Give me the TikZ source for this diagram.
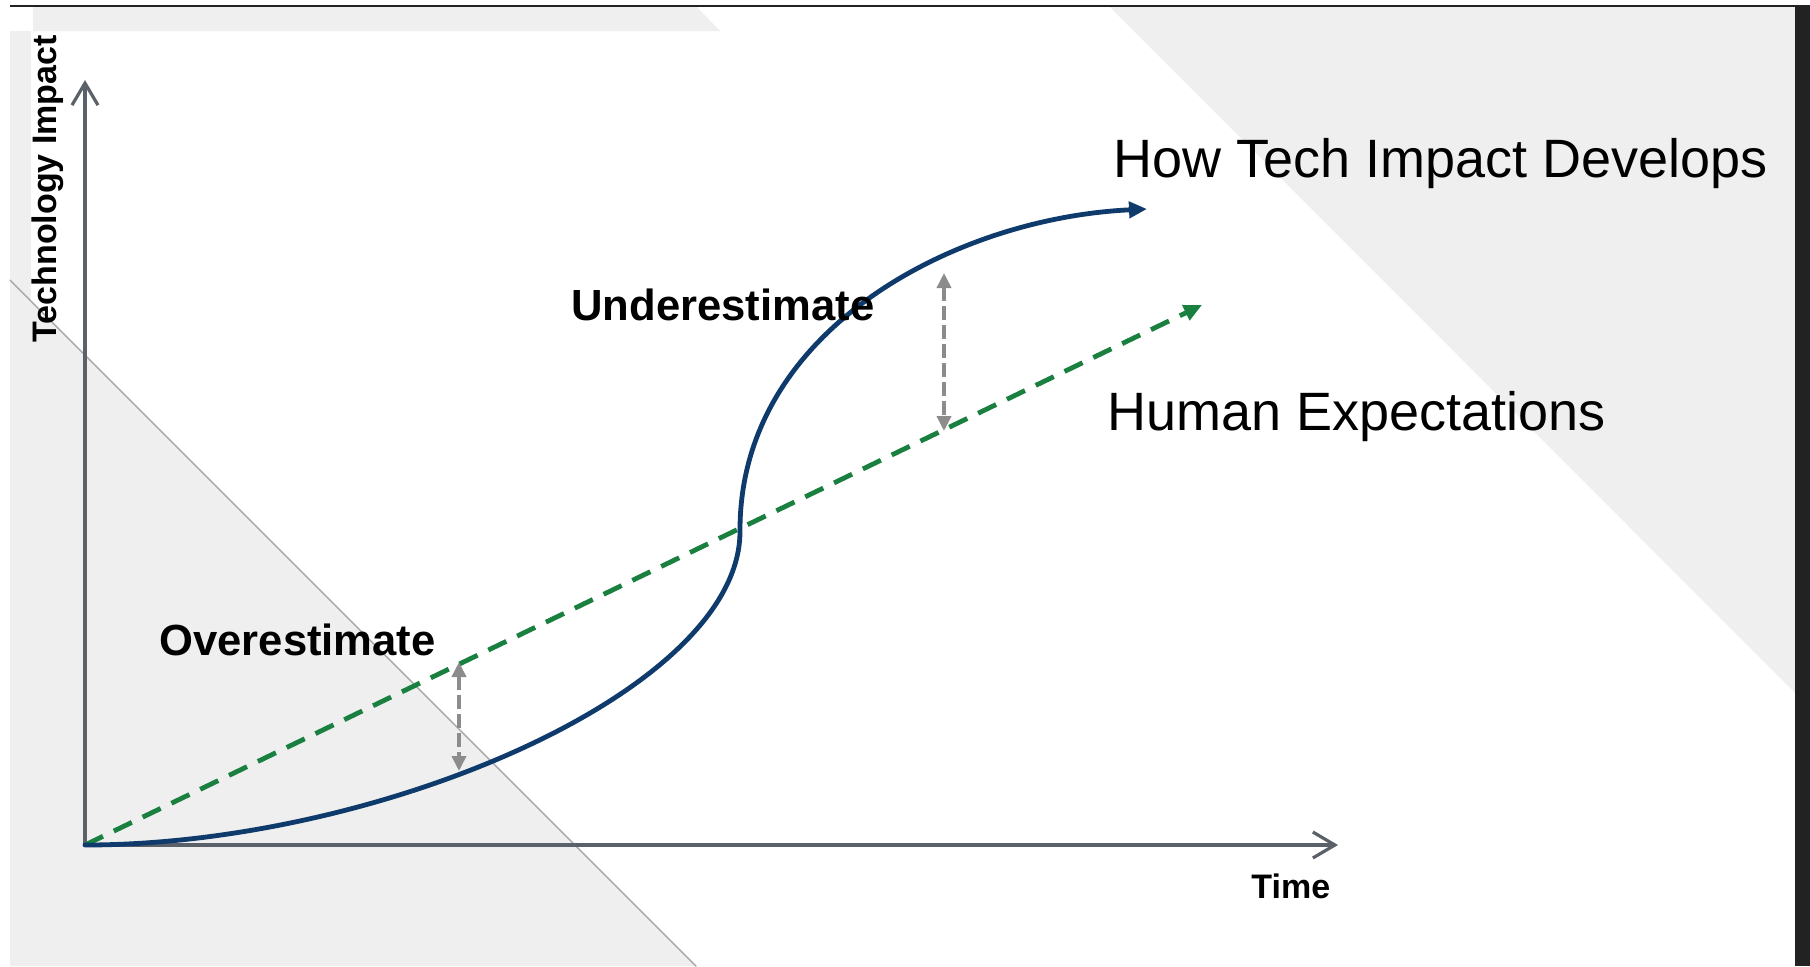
\documentclass[tikz,border=0pt]{standalone}
\usepackage{fontspec}
\setmainfont{Liberation Sans}
\usetikzlibrary{arrows.meta}
\definecolor{panelgray}{HTML}{EFEFEF}
\definecolor{framedark}{HTML}{222222}
\definecolor{axisgray}{HTML}{5B6168}
\definecolor{technavy}{HTML}{0E3A6C}
\definecolor{expgreen}{HTML}{1A8040}
\definecolor{gapgray}{HTML}{8C8C8C}
\definecolor{edgegray}{HTML}{A8A8A8}
\begin{document}
\begin{tikzpicture}[x=0.5pt, y=-0.5pt, line join=round, line cap=round,
  >={Triangle[length=9pt,width=8pt]},
  axisline/.style={axisgray, line width=1.6pt, -{Straight Barb[length=11pt,width=13pt]}},
  techcurve/.style={technavy, line width=2.4pt, ->},
  expline/.style={expgreen, line width=2.4pt, line cap=butt, dash pattern=on 10pt off 6pt, ->},
  gaparrow/.style={gapgray, line width=1.8pt, line cap=butt, dash pattern=on 7pt off 2.5pt,
    {Triangle[length=7.5pt,width=7pt]}-{Triangle[length=7.5pt,width=7pt]}},
  bigtext/.style={inner sep=0pt, anchor=base west, font=\fontsize{27}{31}\selectfont},
  boldtext/.style={inner sep=0pt, anchor=base west, font=\bfseries\fontsize{21.8}{26}\selectfont},
  axistext/.style={inner sep=0pt, anchor=base west, font=\bfseries\fontsize{17}{20}\selectfont}]
\def\W{1810} \def\H{966}
\useasboundingbox (0,0) rectangle (\W,\H);
\fill[white] (0,0) rectangle (\W,\H);
% slide background
\fill[panelgray] (33,7) -- (697,7) -- (720,31) -- (33,31) -- cycle;
\fill[panelgray] (10,31) rectangle (31,\H);
\fill[panelgray] (10,280) -- (696,\H) -- (10,\H) -- cycle;
\fill[panelgray] (1110,7) -- (1795,693) -- (1795,7) -- cycle;
\draw[edgegray, line width=0.7pt] (10,280) -- (696,\H);
\fill[framedark] (1795,5) rectangle (\W,\H);
\draw[framedark, line width=1pt, line cap=butt] (10,6) -- (\W,6);
% axes
\coordinate (O) at (85,845);
\coordinate (ytip) at (85,80);
\coordinate (xtip) at (1338,845);
\draw[axisline] (O) -- (ytip);
\draw[axisline] (O) -- (xtip);
% expectations and impact
\coordinate (expend) at (1202,305);
\coordinate (cross) at (740,530);
\coordinate (techend) at (1147,209);
\draw[expline] (O) -- (expend);
\draw[techcurve] (O) .. controls (380,845) and (742,690) .. (cross)
  .. controls (740,330) and (955,218) .. (techend);
% gaps
\coordinate (over1) at (459,662);
\coordinate (over2) at (459,771);
\coordinate (under1) at (944,273);
\coordinate (under2) at (944,431);
\draw[gaparrow] (over1) -- (over2);
\draw[gaparrow] (under1) -- (under2);
% labels
\node[bigtext] (techlbl) at (1113,177) {How Tech Impact Develops};
\node[bigtext] (explbl) at (1107,430) {Human Expectations};
\node[boldtext] (underlbl) at (571,320) {Underestimate};
\node[boldtext] (overlbl) at (159,655) {Overestimate};
\node[axistext] (timelbl) at (1251,898) {Time};
\node[axistext, rotate=90] (impactlbl) at (56,343) {Technology Impact};
\end{tikzpicture}
\end{document}
